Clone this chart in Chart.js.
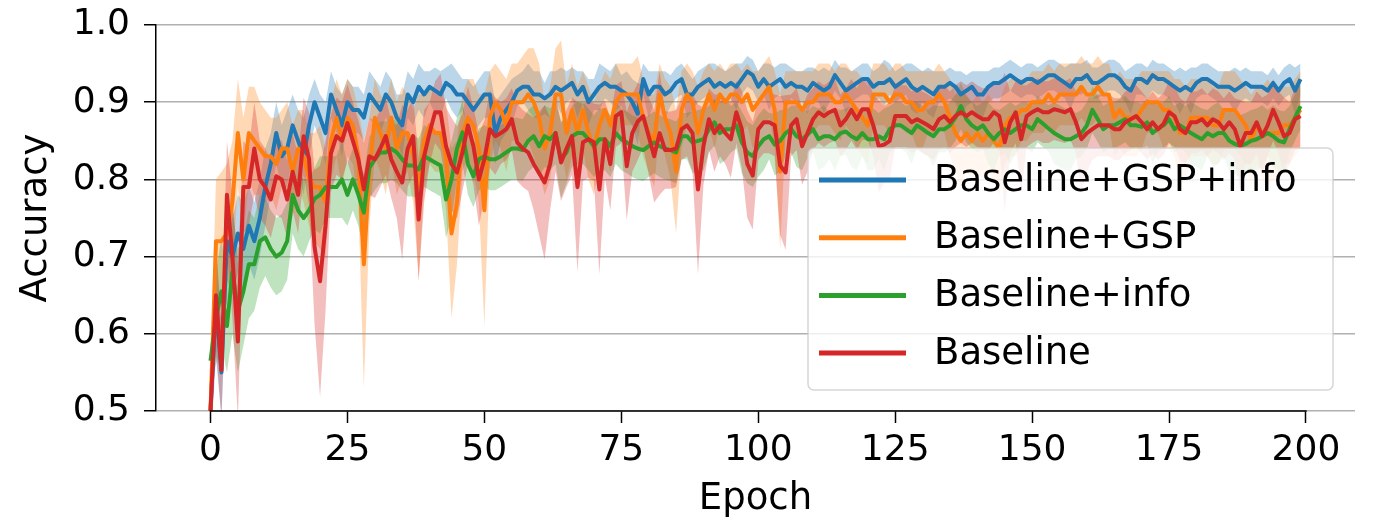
<!DOCTYPE html>
<html>
<head>
<meta charset="utf-8">
<script src="https://cdn.jsdelivr.net/npm/chart.js@4/dist/chart.umd.min.js"></script>
<style>
  html, body { margin: 0; padding: 0; background: #fff; }
  #chart { display: block; }
</style>
</head>
<body>
<canvas id="chart" width="1373" height="522"></canvas>
<script>
// values
const legendLabels = ['Baseline+GSP+info', 'Baseline+GSP', 'Baseline+info', 'Baseline'];
const xTicks = [0, 25, 50, 75, 100, 125, 150, 175, 200];
const yTicks = [0.5, 0.6, 0.7, 0.8, 0.9, 1.0];
const epochs = Array.from({ length: 200 }, (_, i) => i);

// Baseline+GSP+info
const gspInfoAcc = [
  0.50, 0.64, 0.55, 0.72, 0.70, 0.73, 0.71, 0.74, 0.72, 0.75,
  0.79, 0.82, 0.86, 0.83, 0.84, 0.87, 0.85, 0.83, 0.87, 0.90,
  0.88, 0.86, 0.91, 0.89, 0.87, 0.90, 0.89, 0.89, 0.88, 0.91,
  0.90, 0.89, 0.91, 0.90, 0.88, 0.87, 0.91, 0.90, 0.92, 0.91,
  0.92, 0.915, 0.91, 0.925, 0.92, 0.91, 0.91, 0.90, 0.89, 0.90,
  0.91, 0.91, 0.86, 0.88, 0.89, 0.90, 0.915, 0.92, 0.92, 0.91,
  0.91, 0.905, 0.91, 0.92, 0.915, 0.92, 0.925, 0.91, 0.92, 0.90,
  0.91, 0.92, 0.925, 0.92, 0.92, 0.915, 0.91, 0.90, 0.885, 0.93,
  0.91, 0.92, 0.92, 0.91, 0.915, 0.925, 0.93, 0.91, 0.91, 0.92,
  0.925, 0.93, 0.92, 0.925, 0.92, 0.925, 0.92, 0.93, 0.94, 0.935,
  0.92, 0.93, 0.92, 0.925, 0.93, 0.92, 0.925, 0.92, 0.92, 0.915,
  0.925, 0.92, 0.915, 0.92, 0.935, 0.925, 0.915, 0.92, 0.925, 0.93,
  0.93, 0.92, 0.925, 0.925, 0.93, 0.92, 0.925, 0.93, 0.92, 0.915,
  0.92, 0.915, 0.91, 0.92, 0.92, 0.925, 0.92, 0.91, 0.915, 0.92,
  0.91, 0.91, 0.92, 0.925, 0.925, 0.93, 0.935, 0.93, 0.925, 0.93,
  0.93, 0.925, 0.93, 0.935, 0.935, 0.93, 0.925, 0.92, 0.93, 0.93,
  0.935, 0.925, 0.925, 0.93, 0.935, 0.935, 0.93, 0.92, 0.915, 0.93,
  0.93, 0.925, 0.935, 0.93, 0.93, 0.925, 0.92, 0.915, 0.92, 0.915,
  0.925, 0.93, 0.93, 0.925, 0.92, 0.92, 0.92, 0.915, 0.92, 0.925,
  0.92, 0.92, 0.92, 0.915, 0.925, 0.915, 0.925, 0.93, 0.915, 0.93
];
const gspInfoStd = [
  .05,.07,.06,.05,.05,.05,.06,.05,.05,.05,
  .05,.04,.04,.04,.05,.04,.04,.05,.04,.03,
  .03,.04,.03,.03,.04,.03,.03,.03,.03,.03,
  .03,.03,.03,.03,.03,.04,.03,.03,.03,.03,
  .02,.03,.03,.02,.03,.03,.02,.03,.03,.03,
  .03,.03,.04,.03,.03,.03,.02,.02,.03,.03,
  .03,.02,.03,.02,.03,.02,.02,.03,.02,.03,
  .02,.03,.02,.02,.03,.02,.03,.03,.04,.02,
  .03,.02,.02,.03,.02,.02,.02,.03,.02,.02,
  .02,.02,.03,.02,.02,.02,.03,.02,.02,.02,
  .02,.02,.03,.02,.02,.03,.02,.02,.02,.03,
  .02,.02,.03,.02,.02,.02,.03,.02,.02,.02,
  .02,.02,.02,.03,.02,.02,.02,.02,.03,.03,
  .02,.03,.03,.02,.02,.02,.02,.03,.02,.02,
  .03,.03,.02,.02,.02,.02,.02,.02,.02,.02,
  .02,.02,.02,.02,.02,.02,.02,.03,.02,.02,
  .02,.02,.02,.02,.02,.02,.02,.02,.03,.02,
  .02,.02,.02,.02,.02,.02,.02,.03,.02,.03,
  .02,.02,.02,.02,.02,.02,.02,.03,.02,.02,
  .02,.02,.02,.02,.02,.02,.02,.02,.03,.02
];

// Baseline+GSP
const gspAcc = [
  0.50, 0.72, 0.72, 0.73, 0.77, 0.86, 0.80, 0.86, 0.85, 0.84,
  0.83, 0.83, 0.82, 0.84, 0.84, 0.81, 0.84, 0.83, 0.80, 0.79,
  0.79, 0.77, 0.85, 0.88, 0.85, 0.88, 0.87, 0.83, 0.69, 0.81,
  0.88, 0.86, 0.84, 0.88, 0.84, 0.86, 0.86, 0.83, 0.79, 0.85,
  0.87, 0.86, 0.86, 0.83, 0.73, 0.77, 0.86, 0.88, 0.87, 0.84,
  0.76, 0.88, 0.90, 0.89, 0.87, 0.90, 0.90, 0.90, 0.91, 0.90,
  0.88, 0.84, 0.86, 0.91, 0.91, 0.86, 0.89, 0.86, 0.89, 0.86,
  0.84, 0.87, 0.89, 0.87, 0.90, 0.91, 0.91, 0.91, 0.91, 0.88,
  0.86, 0.85, 0.91, 0.88, 0.86, 0.81, 0.89, 0.91, 0.90, 0.86,
  0.89, 0.91, 0.89, 0.91, 0.90, 0.91, 0.91, 0.90, 0.91, 0.89,
  0.90, 0.91, 0.92, 0.89, 0.81, 0.90, 0.90, 0.90, 0.89, 0.90,
  0.90, 0.91, 0.91, 0.91, 0.90, 0.90, 0.91, 0.90, 0.89, 0.88,
  0.87, 0.91, 0.91, 0.91, 0.90, 0.91, 0.91, 0.90, 0.90, 0.89,
  0.89, 0.90, 0.90, 0.91, 0.90, 0.88, 0.86, 0.85, 0.86, 0.85,
  0.86, 0.85, 0.86, 0.85, 0.84, 0.87, 0.88, 0.88, 0.89, 0.89,
  0.90, 0.90, 0.90, 0.91, 0.90, 0.91, 0.91, 0.91, 0.91, 0.92,
  0.91, 0.91, 0.92, 0.91, 0.91, 0.88, 0.89, 0.88, 0.88, 0.88,
  0.89, 0.90, 0.90, 0.90, 0.89, 0.89, 0.88, 0.86, 0.86, 0.88,
  0.88, 0.88, 0.88, 0.87, 0.87, 0.89, 0.89, 0.89, 0.88, 0.87,
  0.85, 0.87, 0.86, 0.86, 0.86, 0.86, 0.87, 0.87, 0.88, 0.89
];
const gspStd = [
  .06,.08,.09,.09,.08,.07,.08,.06,.07,.06,
  .06,.05,.06,.05,.06,.06,.05,.06,.06,.07,
  .08,.07,.05,.05,.06,.05,.05,.06,.16,.07,
  .05,.05,.06,.05,.06,.06,.05,.06,.12,.06,
  .05,.05,.05,.07,.11,.08,.05,.05,.06,.07,
  .15,.06,.05,.05,.06,.05,.05,.06,.06,.07,
  .07,.06,.06,.06,.07,.06,.06,.06,.05,.06,
  .06,.05,.05,.06,.05,.04,.04,.04,.05,.05,
  .05,.06,.04,.05,.06,.08,.05,.04,.04,.06,
  .05,.04,.05,.04,.04,.04,.04,.04,.04,.05,
  .04,.04,.04,.05,.10,.04,.04,.04,.05,.04,
  .04,.04,.04,.04,.04,.05,.04,.04,.05,.05,
  .05,.04,.04,.04,.04,.04,.04,.04,.04,.05,
  .05,.04,.04,.04,.04,.05,.05,.06,.05,.05,
  .05,.05,.05,.05,.06,.05,.05,.05,.04,.04,
  .04,.04,.04,.04,.04,.04,.04,.04,.04,.04,
  .04,.04,.04,.04,.04,.05,.05,.05,.05,.05,
  .05,.04,.04,.04,.05,.05,.05,.07,.06,.05,
  .05,.05,.05,.05,.05,.05,.05,.05,.05,.05,
  .06,.05,.06,.07,.06,.06,.05,.05,.05,.05
];

// Baseline+info
const infoAcc = [
  0.565, 0.62, 0.655, 0.61, 0.68, 0.63, 0.655, 0.69, 0.69, 0.72,
  0.725, 0.71, 0.70, 0.705, 0.72, 0.78, 0.76, 0.75, 0.76, 0.775,
  0.78, 0.79, 0.79, 0.79, 0.80, 0.78, 0.80, 0.78, 0.757, 0.815,
  0.826, 0.835, 0.835, 0.84, 0.835, 0.826, 0.818, 0.818, 0.813, 0.83,
  0.826, 0.822, 0.818, 0.774, 0.80, 0.84, 0.861, 0.82, 0.804, 0.826,
  0.83, 0.826, 0.826, 0.83, 0.835, 0.84, 0.84, 0.838, 0.85, 0.856,
  0.843, 0.856, 0.852, 0.86, 0.826, 0.835, 0.856, 0.86, 0.86, 0.852,
  0.843, 0.852, 0.852, 0.843, 0.86, 0.852, 0.848, 0.843, 0.84, 0.838,
  0.843, 0.848, 0.843, 0.84, 0.838, 0.835, 0.856, 0.856, 0.848, 0.85,
  0.852, 0.865, 0.874, 0.86, 0.865, 0.865, 0.87, 0.848, 0.835, 0.83,
  0.843, 0.852, 0.856, 0.845, 0.85, 0.86, 0.865, 0.856, 0.852, 0.858,
  0.865, 0.852, 0.856, 0.856, 0.852, 0.86, 0.862, 0.856, 0.852, 0.86,
  0.852, 0.852, 0.856, 0.852, 0.865, 0.87, 0.87, 0.865, 0.86, 0.87,
  0.865, 0.86, 0.856, 0.865, 0.865, 0.87, 0.88, 0.895, 0.878, 0.87,
  0.865, 0.87, 0.86, 0.852, 0.86, 0.865, 0.86, 0.865, 0.87, 0.87,
  0.865, 0.878, 0.872, 0.866, 0.86, 0.856, 0.852, 0.852, 0.856, 0.86,
  0.87, 0.89, 0.878, 0.865, 0.87, 0.87, 0.874, 0.878, 0.87, 0.87,
  0.868, 0.874, 0.86, 0.866, 0.87, 0.878, 0.865, 0.87, 0.865, 0.86,
  0.856, 0.852, 0.86, 0.856, 0.86, 0.86, 0.85, 0.846, 0.843, 0.846,
  0.85, 0.852, 0.856, 0.86, 0.856, 0.85, 0.848, 0.865, 0.88, 0.895
];
const infoStd = [
  .02,.06,.07,.06,.08,.08,.07,.07,.06,.06,
  .05,.05,.05,.05,.05,.05,.05,.05,.04,.04,
  .05,.04,.04,.04,.05,.04,.04,.04,.05,.04,
  .04,.04,.04,.04,.04,.04,.04,.04,.04,.04,
  .04,.04,.04,.05,.05,.04,.04,.04,.04,.04,
  .04,.04,.04,.04,.04,.04,.04,.04,.04,.04,
  .04,.04,.04,.04,.05,.04,.04,.04,.04,.04,
  .04,.04,.04,.04,.04,.04,.04,.04,.04,.04,
  .04,.04,.04,.04,.04,.04,.03,.03,.04,.04,
  .04,.03,.03,.04,.04,.03,.03,.04,.04,.04,
  .04,.04,.03,.04,.04,.03,.03,.04,.04,.03,
  .03,.04,.04,.03,.04,.03,.03,.04,.04,.03,
  .04,.04,.03,.04,.03,.03,.03,.03,.04,.03,
  .03,.03,.04,.03,.03,.03,.03,.03,.03,.03,
  .03,.03,.04,.04,.03,.03,.04,.03,.03,.03,
  .03,.03,.03,.03,.04,.04,.04,.04,.03,.03,
  .03,.03,.03,.03,.03,.03,.03,.03,.03,.03,
  .03,.03,.04,.03,.03,.03,.03,.03,.03,.04,
  .04,.04,.03,.04,.04,.03,.04,.04,.04,.04,
  .04,.04,.04,.03,.04,.04,.04,.03,.03,.03
];

// Baseline
const baseAcc = [
  0.50, 0.65, 0.553, 0.78, 0.70, 0.59, 0.79, 0.79, 0.84, 0.80,
  0.79, 0.774, 0.804, 0.80, 0.774, 0.81, 0.78, 0.856, 0.826, 0.712,
  0.668, 0.74, 0.834, 0.856, 0.85, 0.873, 0.85, 0.826, 0.787, 0.83,
  0.826, 0.84, 0.856, 0.826, 0.81, 0.796, 0.84, 0.856, 0.748, 0.83,
  0.86, 0.887, 0.887, 0.843, 0.82, 0.809, 0.835, 0.87, 0.843, 0.80,
  0.826, 0.865, 0.856, 0.86, 0.865, 0.878, 0.848, 0.84, 0.835, 0.82,
  0.808, 0.796, 0.82, 0.86, 0.822, 0.84, 0.856, 0.79, 0.848, 0.852,
  0.848, 0.787, 0.852, 0.82, 0.882, 0.887, 0.817, 0.86, 0.875, 0.882,
  0.856, 0.83, 0.86, 0.838, 0.838, 0.84, 0.865, 0.87, 0.86, 0.787,
  0.843, 0.878, 0.86, 0.87, 0.86, 0.852, 0.887, 0.865, 0.82, 0.805,
  0.865, 0.874, 0.874, 0.87, 0.818, 0.809, 0.87, 0.878, 0.843, 0.86,
  0.878, 0.887, 0.882, 0.887, 0.89, 0.87, 0.878, 0.89, 0.878, 0.891,
  0.891, 0.87, 0.843, 0.845, 0.85, 0.882, 0.882, 0.882, 0.874, 0.878,
  0.874, 0.87, 0.865, 0.878, 0.882, 0.874, 0.882, 0.887, 0.882, 0.887,
  0.882, 0.878, 0.878, 0.887, 0.882, 0.848, 0.874, 0.887, 0.852, 0.882,
  0.887, 0.891, 0.887, 0.887, 0.891, 0.889, 0.887, 0.891, 0.874, 0.852,
  0.86, 0.865, 0.87, 0.87, 0.87, 0.865, 0.865, 0.874, 0.878, 0.882,
  0.874, 0.865, 0.874, 0.865, 0.872, 0.887, 0.882, 0.865, 0.86, 0.874,
  0.874, 0.878, 0.87, 0.878, 0.874, 0.865, 0.874, 0.865, 0.843, 0.86,
  0.86, 0.874, 0.856, 0.87, 0.89, 0.874, 0.856, 0.86, 0.878, 0.882
];
const baseStd = [
  .03,.07,.06,.07,.08,.10,.06,.05,.06,.05,
  .05,.05,.05,.05,.05,.05,.05,.05,.06,.10,
  .15,.11,.05,.05,.05,.05,.05,.05,.06,.05,
  .05,.05,.05,.05,.06,.10,.05,.05,.08,.06,
  .04,.04,.05,.05,.06,.06,.05,.05,.05,.06,
  .05,.05,.05,.04,.04,.04,.05,.05,.05,.06,
  .08,.10,.06,.05,.05,.05,.05,.11,.05,.05,
  .05,.11,.05,.06,.04,.04,.07,.05,.05,.04,
  .05,.06,.08,.05,.05,.05,.04,.04,.05,.11,
  .05,.04,.05,.04,.04,.05,.04,.05,.07,.07,
  .04,.04,.04,.04,.09,.10,.04,.04,.05,.05,
  .04,.04,.04,.04,.04,.04,.04,.04,.04,.04,
  .04,.04,.06,.05,.05,.04,.04,.04,.04,.04,
  .04,.04,.04,.04,.04,.04,.04,.04,.04,.04,
  .04,.04,.04,.04,.04,.09,.04,.04,.07,.04,
  .04,.04,.04,.04,.04,.04,.04,.04,.04,.07,
  .05,.04,.04,.04,.04,.04,.04,.04,.04,.04,
  .04,.04,.04,.04,.04,.04,.04,.04,.04,.04,
  .04,.04,.04,.04,.04,.04,.04,.04,.06,.04,
  .04,.04,.05,.04,.04,.04,.05,.04,.04,.04
];

const means = [gspInfoAcc, gspAcc, infoAcc, baseAcc];
const stds = [gspInfoStd, gspStd, infoStd, baseStd];
const colors = ['31,119,180', '255,127,14', '44,160,44', '214,39,40'];

const FONT = "'DejaVu Sans', sans-serif";

// bands first (all of them), lines above; higher order = drawn lower
const datasets = [];
means.forEach((mean, k) => {
  const std = stds[k];
  datasets.push({
    data: epochs.map((e, i) => ({ x: e, y: mean[i] + std[i] })),
    borderColor: 'rgba(0,0,0,0)', borderWidth: 0, pointRadius: 0,
    backgroundColor: 'rgba(' + colors[k] + ',0.3)', fill: '+1', order: 100 - 2 * k
  });
  datasets.push({
    data: epochs.map((e, i) => ({ x: e, y: mean[i] - std[i] })),
    borderColor: 'rgba(0,0,0,0)', borderWidth: 0, pointRadius: 0,
    fill: false, order: 99 - 2 * k
  });
});
means.forEach((mean, k) => {
  datasets.push({
    label: legendLabels[k],
    data: epochs.map((e, i) => ({ x: e, y: mean[i] })),
    borderColor: 'rgb(' + colors[k] + ')', borderWidth: 4, pointRadius: 0,
    borderJoinStyle: 'round', fill: false, order: 10 - k
  });
});

// trimmed bottom spine (only from first to last tick)
const spinePlugin = {
  id: 'spine',
  afterDraw(chart) {
    const { ctx, chartArea } = chart;
    const x = chart.scales.x;
    ctx.save();
    ctx.strokeStyle = '#000';
    ctx.lineWidth = 1.5;
    ctx.beginPath();
    ctx.moveTo(x.getPixelForValue(xTicks[0]) - 0.75, chartArea.bottom);
    ctx.lineTo(x.getPixelForValue(xTicks[xTicks.length - 1]) + 0.75, chartArea.bottom);
    ctx.stroke();
    ctx.restore();
  }
};

// matplotlib style legend in lower right
const legendPlugin = {
  id: 'mplLegend',
  afterDatasetsDraw(chart) {
    const { ctx, chartArea } = chart;
    const w = 525, h = 242;
    const bx = chartArea.right - 22 - w;
    const by = chartArea.bottom - 21 - h;
    ctx.save();
    ctx.beginPath();
    ctx.roundRect(bx, by, w, h, 6);
    ctx.fillStyle = 'rgba(255,255,255,0.8)';
    ctx.fill();
    ctx.strokeStyle = 'rgba(204,204,204,0.8)';
    ctx.lineWidth = 1.5;
    ctx.stroke();
    ctx.font = '37px ' + FONT;
    ctx.textBaseline = 'middle';
    ctx.fillStyle = '#000';
    legendLabels.forEach((lab, k) => {
      const y = by + 32 + k * 57.7;
      ctx.strokeStyle = 'rgb(' + colors[k] + ')';
      ctx.lineWidth = 5;
      ctx.beginPath();
      ctx.moveTo(bx + 11, y);
      ctx.lineTo(bx + 98, y);
      ctx.stroke();
      ctx.fillText(lab, bx + 126, y + 1);
    });
    ctx.restore();
  }
};

new Chart(document.getElementById('chart'), {
  type: 'line',
  data: { datasets },
  plugins: [spinePlugin, legendPlugin],
  options: {
    responsive: false,
    animation: false,
    devicePixelRatio: 1,
    layout: { padding: { left: 0, right: 18, top: 25, bottom: 0 } },
    plugins: { legend: { display: false }, tooltip: { enabled: false } },
    scales: {
      x: {
        type: 'linear',
        min: -9.95,
        max: 208.95,
        afterBuildTicks: (axis) => { axis.ticks = xTicks.map(v => ({ value: v })); },
        afterFit: (axis) => { axis.height = 111; },
        grid: { drawOnChartArea: false, drawTicks: true, tickLength: 12, tickColor: '#000', tickWidth: 1.5 },
        border: { display: false },
        ticks: { color: '#000', font: { family: FONT, size: 36 }, padding: 6, maxRotation: 0, callback: (v) => String(v) },
        title: { display: true, text: 'Epoch', color: '#000', font: { family: FONT, size: 37 }, padding: { top: 0, bottom: 0 } }
      },
      y: {
        min: 0.5,
        max: 1.0,
        afterBuildTicks: (axis) => { axis.ticks = yTicks.map(v => ({ value: v })); },
        afterFit: (axis) => { axis.width = 156; axis.paddingTop = 0; axis.paddingBottom = 0; },
        grid: { color: '#b0b0b0', lineWidth: 1.5, drawTicks: true, tickLength: 12, tickColor: '#000', tickWidth: 1.5 },
        border: { display: true, color: '#000', width: 1.5 },
        ticks: { color: '#000', font: { family: FONT, size: 36 }, padding: 14, callback: (v) => v.toFixed(1) },
        title: { display: true, text: 'Accuracy', color: '#000', font: { family: FONT, size: 37 }, padding: { top: 14, bottom: 0 } }
      }
    }
  }
});
</script>
</body>
</html>
